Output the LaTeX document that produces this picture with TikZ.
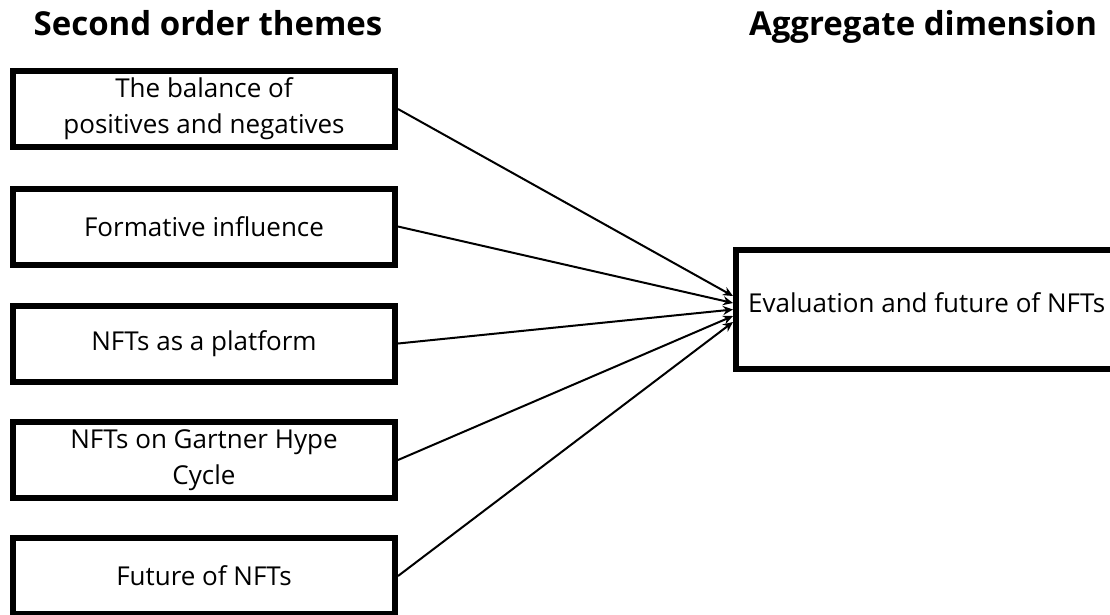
\documentclass[tikz,border=0pt]{standalone}
\usepackage{fontspec}
\setmainfont{Open Sans}[Ligatures=NoCommon]
\usetikzlibrary{arrows.meta,calc}
\tikzset{
  theme/.style={draw=black, line width=6pt, minimum width=382pt, minimum height=76pt,
    inner sep=0pt, align=center, font=\fontsize{26}{36}\selectfont},
  aggbox/.style={draw=black, line width=6pt, minimum width=420pt, minimum height=119pt,
    inner sep=0pt},
  heading/.style={font=\bfseries\fontsize{33}{38}\selectfont, inner sep=0pt, anchor=base},
  link/.style={line width=2pt, -{Stealth[length=10pt,width=9pt]}},
}
\begin{document}
\begin{tikzpicture}[x=1pt,y=-1pt]
\clip (0,0) rectangle (1110,614);
\fill[white] (0,0) rectangle (1110,614);
% column headings
\node[heading] (h1) at (208,35) {Second order themes};
\node[heading] (h2) at (923,35) {Aggregate dimension};
% second order themes
\node[theme] (t1) at (204,109) {The balance of\\positives and negatives};
\node[theme] (t2) at (204,226.5) {Formative influence};
\node[theme] (t3) at (204,343.5) {NFTs as a platform};
\node[theme] (t4) at (204,460) {NFTs on Gartner Hype\\Cycle};
\node[theme] (t5) at (204,576) {Future of NFTs};
% aggregate dimension
\node[aggbox] (agg) at (946,309.5) {};
\node[anchor=base west, inner sep=0pt, font=\fontsize{26}{34}\selectfont] (aggtxt) at (748,312) {Evaluation and future of NFTs};
% connectors
\draw[link] (t1.east) -- ($(agg.west)+(0,-13.5)$);
\draw[link] (t2.east) -- ($(agg.west)+(0,-6.5)$);
\draw[link] (t3.east) -- (agg.west);
\draw[link] (t4.east) -- ($(agg.west)+(0,6.5)$);
\draw[link] (t5.east) -- ($(agg.west)+(0,12.5)$);
\end{tikzpicture}
\end{document}
